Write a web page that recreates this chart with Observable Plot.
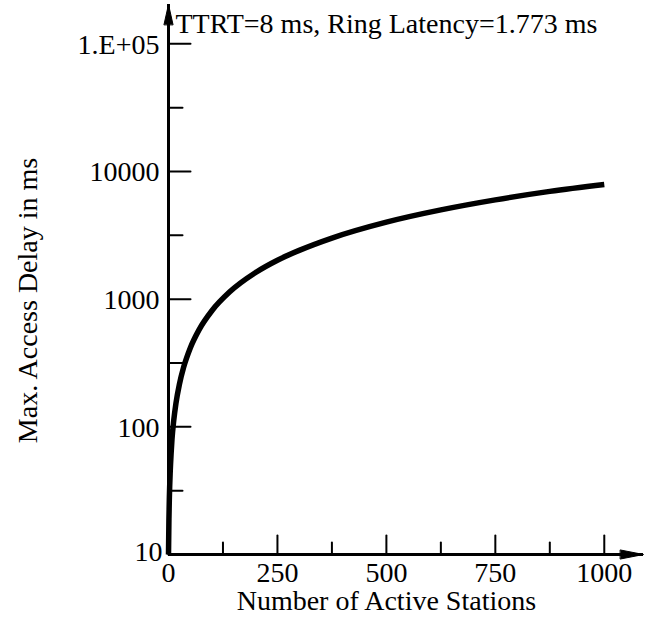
<!DOCTYPE html>
<html>
<head>
<meta charset="utf-8">
<script src="https://cdn.jsdelivr.net/npm/d3@7"></script>
<script src="https://cdn.jsdelivr.net/npm/@observablehq/plot@0.6"></script>
<style>
  html, body { margin: 0; padding: 0; background: #fff; }
</style>
</head>
<body>
<div id="chart"></div>
<script>
// Maximum access delay vs. number of active stations (TTRT = 8 ms)
const stations = [0, 1, 2, 4, 6, 8, 12, 17, 25, 35, 50, 70, 100, 140, 200, 250, 300, 375, 500, 625, 750, 875, 1000];
const delayMs  = [10, 19, 28, 45, 62, 80, 112, 152, 215, 295, 415, 575, 815, 1135, 1615, 2015, 2410, 3010, 4010, 5000, 5990, 6980, 7900];

const xMajorTicks = [0, 250, 500, 750, 1000];
const xMinorTicks = [125, 375, 625, 875];
const xTickLabels = ["0", "250", "500", "750", "1000"];
const yMajorTicks = [10, 100, 1000, 10000, 100000];
const yMinorTicks = [31.6, 316, 3160, 31600];
const yTickLabels = ["10", "100", "1000", "10000", "1.E+05"];

const titleText = "TTRT=8 ms, Ring Latency=1.773 ms";
const xTitle = "Number of Active Stations";
const yTitle = "Max. Access Delay in ms";

// axis extents (the arrow tips lie a little beyond the last tick)
const xAxisEnd = 1090;
const yAxisStart = 10;
const yAxisEnd = 2.03e5;

const curve = stations.map((n, i) => ({n, delay: delayMs[i]}));

const font = "'Liberation Serif', 'Times New Roman', Times, serif";
const fs = 28;

// straight tick segment and filled, slender arrowhead for Plot.vector
const tickShape = {draw(ctx, l) { ctx.moveTo(0, 0); ctx.lineTo(0, -l); }};
const headShape = {draw(ctx, l) { ctx.moveTo(-4.5, 0); ctx.lineTo(0, -l); ctx.lineTo(4.5, 0); ctx.closePath(); }};

const chart = Plot.plot({
  width: 648,
  height: 619,
  marginLeft: 168,
  marginRight: 5,
  marginTop: 4,
  marginBottom: 65,
  style: {fontFamily: font, fontSize: fs + "px", background: "#fff", color: "#000"},
  x: {domain: [0, xAxisEnd], axis: null},
  y: {type: "log", domain: [yAxisStart, yAxisEnd], axis: null},
  marks: [
    // axis lines
    Plot.ruleX([0], {y1: yAxisStart, y2: yAxisEnd, stroke: "black", strokeWidth: 3}),
    Plot.ruleY([yAxisStart], {x1: 0, x2: xAxisEnd, stroke: "black", strokeWidth: 3}),
    // arrowheads
    Plot.vector([xAxisEnd], {x: d => d, y: yAxisStart, length: 23, rotate: 90, anchor: "end", shape: headShape, fill: "black", stroke: "black", strokeWidth: 1}),
    Plot.vector([yAxisEnd], {x: 0, y: d => d, length: 20, rotate: 0, anchor: "end", shape: headShape, fill: "black", stroke: "black", strokeWidth: 1}),
    // inward ticks
    Plot.vector(xMajorTicks, {x: d => d, y: yAxisStart, length: 19, rotate: 0, anchor: "start", shape: tickShape, stroke: "black", strokeWidth: 2}),
    Plot.vector(xMinorTicks, {x: d => d, y: yAxisStart, length: 12, rotate: 0, anchor: "start", shape: tickShape, stroke: "black", strokeWidth: 2}),
    Plot.vector(yMajorTicks, {x: 0, y: d => d, length: 22, rotate: 90, anchor: "start", shape: tickShape, stroke: "black", strokeWidth: 2}),
    Plot.vector(yMinorTicks, {x: 0, y: d => d, length: 14, rotate: 90, anchor: "start", shape: tickShape, stroke: "black", strokeWidth: 2}),
    // tick labels
    Plot.text(xMajorTicks, {x: d => d, y: yAxisStart, text: (d, i) => xTickLabels[i], dy: 19, textAnchor: "middle", fontSize: fs, fill: "black"}),
    Plot.text(yMajorTicks.slice(1), {x: 0, y: d => d, text: (d, i) => yTickLabels[i + 1], dx: -9, dy: 1, textAnchor: "end", fontSize: fs, fill: "black"}),
    Plot.text(yMajorTicks.slice(0, 1), {x: 0, y: d => d, text: () => yTickLabels[0], dx: -6, dy: -2, textAnchor: "end", fontSize: fs, fill: "black"}),
    // axis titles and caption
    Plot.text([xTitle], {x: 500, y: yAxisStart, text: d => d, dy: 47, textAnchor: "middle", fontSize: fs, fill: "black"}),
    Plot.text([yTitle], {frameAnchor: "left", text: d => d, rotate: -90, dx: -140, dy: 21, textAnchor: "middle", fontSize: fs, fill: "black"}),
    Plot.text([titleText], {x: 0, y: yAxisEnd, text: d => d, dx: 7, dy: 20, textAnchor: "start", fontSize: fs, fill: "black"}),
    // delay curve
    Plot.line(curve, {x: "n", y: "delay", curve: "monotone-x", stroke: "black", strokeWidth: 5.5, strokeLinecap: "butt"})
  ]
});

document.getElementById("chart").appendChild(chart);
</script>
</body>
</html>
